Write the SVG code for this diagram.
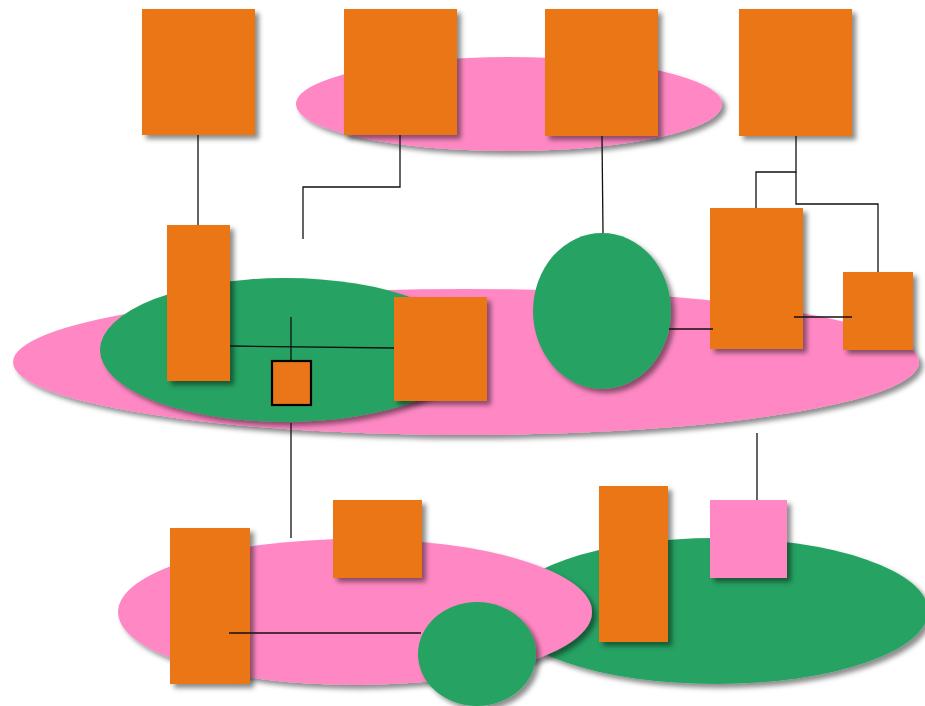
<svg xmlns="http://www.w3.org/2000/svg" width="925" height="706" viewBox="0 0 925 706">
<defs>
<filter id="sh" x="-20%" y="-20%" width="140%" height="140%">
<feDropShadow dx="4" dy="4" stdDeviation="2.5" flood-color="#000" flood-opacity="0.45"/>
</filter>
<style>
.o{fill:#EA7619;filter:url(#sh)}
.p{fill:#FF88C4;filter:url(#sh)}
.g{fill:#27A263;filter:url(#sh)}
.c{fill:none;stroke:#111;stroke-width:1.3}
.b{stroke:#000;stroke-width:2.2}
</style>
</defs>
<rect width="925" height="706" fill="#fff"/>
<g id="groupTop"><ellipse class="p" cx="509" cy="104" rx="213" ry="47"/></g>
<g id="groupMid"><ellipse class="p" cx="466" cy="362" rx="453" ry="73"/></g>
<g id="groupMidGreen"><ellipse class="g" cx="285" cy="350" rx="185" ry="72"/></g>
<g id="groupBottomGreen"><ellipse class="g" cx="716" cy="611" rx="212" ry="73"/></g>
<g id="groupBottomPink"><ellipse class="p" cx="355" cy="612" rx="237" ry="73"/></g>
<g id="n1"><rect class="o" x="142" y="9" width="113" height="126"/></g>
<g id="n2"><rect class="o" x="344" y="9" width="113" height="126"/></g>
<g id="n3"><rect class="o" x="545" y="9" width="113" height="127"/></g>
<g id="n4"><rect class="o" x="739" y="9" width="113" height="127"/></g>
<g id="n5"><rect class="o" x="167" y="225" width="63" height="156"/></g>
<g id="n6"><rect class="o" x="394" y="297" width="93" height="104"/></g>
<g id="n7"><rect class="o b" x="272" y="361" width="39" height="44" style="filter:none"/></g>
<g id="n8"><ellipse class="g" cx="602" cy="311" rx="69" ry="78"/></g>
<g id="n9"><rect class="o" x="710" y="208" width="93" height="141"/></g>
<g id="n10"><rect class="o" x="843" y="272" width="70" height="78"/></g>
<g id="n11"><rect class="o" x="170" y="528" width="80" height="156"/></g>
<g id="n12"><rect class="o" x="333" y="500" width="89" height="78"/></g>
<g id="n13"><ellipse class="g" cx="477" cy="654" rx="59" ry="52"/></g>
<g id="n14"><rect class="o" x="599" y="486" width="69" height="156"/></g>
<g id="n15"><rect class="p" x="710" y="500" width="77" height="78"/></g>
<g id="connectors">
<path class="c" d="M198,135 V225"/>
<path class="c" d="M400,135 V187 H303 V239"/>
<path class="c" d="M602,136 L603,233"/>
<path class="c" d="M796,136 V172 H756 V208"/>
<path class="c" d="M796,172 V204 H878 V272"/>
<path class="c" d="M669,329 H713"/>
<path class="c" d="M794,317 H852"/>
<path class="c" d="M230,346 L394,348"/>
<path class="c" d="M291,317 V361"/>
<path class="c" d="M291,423 V538"/>
<path class="c" d="M229,633 H421"/>
<path class="c" d="M757,433 V500"/>
</g>
</svg>
